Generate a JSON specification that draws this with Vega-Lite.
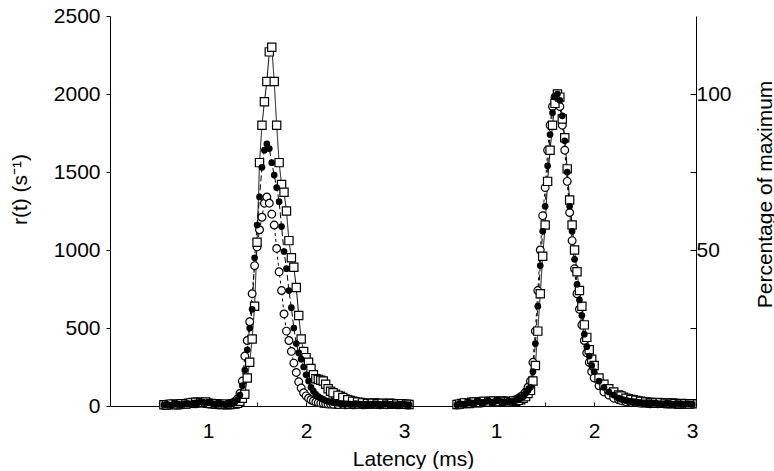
{
  "$schema": "https://vega.github.io/schema/vega-lite/v6.json",
  "padding": {"left": 9, "top": 5, "right": 0, "bottom": 0},
  "spacing": 0,
  "bounds": "flush",
  "config": {
    "view": {"stroke": null},
    "axis": {"grid": false, "domainColor": "black", "tickColor": "black", "labelColor": "black", "titleColor": "black", "labelFont": "Liberation Sans", "titleFont": "Liberation Sans", "labelFontSize": 21, "titleFontSize": 21, "titleFontWeight": "normal", "domainWidth": 1, "tickWidth": 1, "labelOverlap": false}
  },
  "datasets": {
    "L": [
      {"t":0.55,"sq":8,"fc":6,"oc":5},{"t":0.6,"sq":10,"fc":8,"oc":6},{"t":0.65,"sq":12,"fc":10,"oc":9},{"t":0.7,"sq":10,"fc":12,"oc":8},{"t":0.75,"sq":14,"fc":10,"oc":12},{"t":0.8,"sq":18,"fc":15,"oc":12},{"t":0.85,"sq":22,"fc":18,"oc":15},{"t":0.9,"sq":25,"fc":22,"oc":18},{"t":0.95,"sq":20,"fc":25,"oc":20},{"t":1.0,"sq":18,"fc":20,"oc":15},{"t":1.05,"sq":15,"fc":14,"oc":12},{"t":1.1,"sq":12,"fc":10,"oc":14},{"t":1.15,"sq":10,"fc":12,"oc":9},{"t":1.2,"sq":8,"fc":10,"oc":12},{"t":1.25,"sq":12,"fc":15,"oc":20},
      {"t":0.575,"sq":6,"fc":10,"oc":8},{"t":0.625,"sq":12,"fc":6,"oc":10},{"t":0.675,"sq":8,"fc":14,"oc":6},{"t":0.725,"sq":15,"fc":8,"oc":10},{"t":0.775,"sq":12,"fc":16,"oc":14},{"t":0.825,"sq":20,"fc":12,"oc":18},{"t":0.875,"sq":24,"fc":20,"oc":14},{"t":0.925,"sq":22,"fc":26,"oc":22},{"t":0.975,"sq":26,"fc":18,"oc":16},{"t":1.025,"sq":16,"fc":22,"oc":18},{"t":1.075,"sq":14,"fc":12,"oc":10},{"t":1.125,"sq":10,"fc":14,"oc":12},{"t":1.175,"sq":12,"fc":8,"oc":10},{"t":1.225,"sq":10,"fc":12,"oc":14},
      {"t":1.275,"sq":12,"fc":25,"oc":30},{"t":1.3,"sq":18,"fc":40,"oc":45},{"t":1.325,"sq":30,"fc":70,"oc":80},{"t":1.35,"sq":50,"fc":130,"oc":160},{"t":1.375,"sq":75,"fc":230,"oc":320},{"t":1.4,"sq":180,"fc":360,"oc":420},{"t":1.425,"sq":280,"fc":500,"oc":540},{"t":1.45,"sq":430,"fc":620,"oc":720},{"t":1.475,"sq":640,"fc":950,"oc":900},{"t":1.5,"sq":1050,"fc":1160,"oc":1020},{"t":1.525,"sq":1560,"fc":1340,"oc":1130},{"t":1.55,"sq":1800,"fc":1530,"oc":1210},{"t":1.575,"sq":1950,"fc":1640,"oc":1300},{"t":1.6,"sq":2080,"fc":1680,"oc":1340},{"t":1.625,"sq":2270,"fc":1650,"oc":1300},{"t":1.65,"sq":2300,"fc":1560,"oc":1230},{"t":1.675,"sq":2080,"fc":1480,"oc":1160},{"t":1.7,"sq":1800,"fc":1400,"oc":1010},{"t":1.725,"sq":1560,"fc":1310,"oc":860},{"t":1.75,"sq":1420,"fc":1150,"oc":740},{"t":1.775,"sq":1370,"fc":990,"oc":590},{"t":1.8,"sq":1250,"fc":880,"oc":480},{"t":1.825,"sq":1060,"fc":740,"oc":420},{"t":1.85,"sq":950,"fc":630,"oc":350},{"t":1.875,"sq":890,"fc":500,"oc":275},{"t":1.9,"sq":760,"fc":400,"oc":215},{"t":1.925,"sq":580,"fc":340,"oc":155},{"t":1.95,"sq":430,"fc":300,"oc":115},{"t":1.975,"sq":350,"fc":250,"oc":85},{"t":2.0,"sq":310,"fc":200,"oc":65},{"t":2.025,"sq":280,"fc":160,"oc":50},{"t":2.05,"sq":240,"fc":120,"oc":40},{"t":2.075,"sq":200,"fc":95,"oc":32},{"t":2.1,"sq":175,"fc":75,"oc":26},{"t":2.125,"sq":170,"fc":60,"oc":22},{"t":2.15,"sq":165,"fc":50,"oc":18},{"t":2.175,"sq":160,"fc":42,"oc":16},{"t":2.2,"sq":140,"fc":35,"oc":14},{"t":2.225,"sq":110,"fc":30,"oc":12},{"t":2.25,"sq":95,"fc":25,"oc":12},
      {"t":2.3,"sq":75,"fc":20,"oc":10},{"t":2.35,"sq":62,"fc":16,"oc":10},{"t":2.4,"sq":45,"fc":14,"oc":8},{"t":2.45,"sq":35,"fc":12,"oc":10},{"t":2.5,"sq":28,"fc":15,"oc":8},{"t":2.55,"sq":22,"fc":12,"oc":10},{"t":2.6,"sq":18,"fc":10,"oc":8},{"t":2.65,"sq":15,"fc":12,"oc":10},{"t":2.7,"sq":20,"fc":14,"oc":12},{"t":2.75,"sq":16,"fc":10,"oc":8},{"t":2.8,"sq":14,"fc":12,"oc":10},{"t":2.85,"sq":18,"fc":10,"oc":9},{"t":2.9,"sq":12,"fc":8,"oc":10},{"t":2.95,"sq":15,"fc":10,"oc":8},{"t":3.0,"sq":12,"fc":12,"oc":10},{"t":3.05,"sq":10,"fc":8,"oc":6},
      {"t":2.275,"sq":85,"fc":22,"oc":11},{"t":2.325,"sq":68,"fc":18,"oc":9},{"t":2.375,"sq":55,"fc":15,"oc":11},{"t":2.425,"sq":40,"fc":13,"oc":9},{"t":2.475,"sq":30,"fc":10,"oc":8},{"t":2.525,"sq":25,"fc":14,"oc":10},{"t":2.575,"sq":20,"fc":11,"oc":8},{"t":2.625,"sq":16,"fc":13,"oc":10},{"t":2.675,"sq":18,"fc":10,"oc":11},{"t":2.725,"sq":14,"fc":12,"oc":9},{"t":2.775,"sq":17,"fc":9,"oc":11},{"t":2.825,"sq":12,"fc":13,"oc":8},{"t":2.875,"sq":16,"fc":11,"oc":10},{"t":2.925,"sq":13,"fc":9,"oc":8},{"t":2.975,"sq":14,"fc":11,"oc":9},{"t":3.025,"sq":11,"fc":9,"oc":8}
    ],
    "R": [
      {"t":0.6,"sq":0.5,"fc":0.4,"oc":0.3},{"t":0.65,"sq":0.8,"fc":0.6,"oc":0.5},{"t":0.7,"sq":1.0,"fc":0.8,"oc":0.7},{"t":0.75,"sq":1.2,"fc":1.0,"oc":0.9},{"t":0.8,"sq":1.0,"fc":1.3,"oc":1.1},{"t":0.85,"sq":1.4,"fc":1.1,"oc":1.0},{"t":0.9,"sq":1.2,"fc":1.5,"oc":1.3},{"t":0.95,"sq":1.5,"fc":1.2,"oc":1.4},{"t":1.0,"sq":1.3,"fc":1.6,"oc":1.2},{"t":1.05,"sq":1.6,"fc":1.4,"oc":1.5},{"t":1.1,"sq":1.4,"fc":1.2,"oc":1.6},{"t":1.15,"sq":1.2,"fc":1.5,"oc":1.3},{"t":1.2,"sq":1.5,"fc":1.8,"oc":2.0},{"t":1.25,"sq":2.0,"fc":2.5,"oc":3.0},
      {"t":0.625,"sq":0.6,"fc":0.8,"oc":0.5},{"t":0.675,"sq":1.0,"fc":0.6,"oc":0.8},{"t":0.725,"sq":0.8,"fc":1.1,"oc":0.7},{"t":0.775,"sq":1.3,"fc":0.9,"oc":1.0},{"t":0.825,"sq":1.1,"fc":1.4,"oc":1.2},{"t":0.875,"sq":1.5,"fc":1.2,"oc":1.1},{"t":0.925,"sq":1.3,"fc":1.6,"oc":1.4},{"t":0.975,"sq":1.6,"fc":1.3,"oc":1.2},{"t":1.025,"sq":1.4,"fc":1.7,"oc":1.5},{"t":1.075,"sq":1.5,"fc":1.3,"oc":1.4},{"t":1.125,"sq":1.3,"fc":1.6,"oc":1.5},{"t":1.175,"sq":1.6,"fc":1.4,"oc":1.7},{"t":1.225,"sq":1.8,"fc":2.1,"oc":2.4},
      {"t":1.275,"sq":2.5,"fc":3,"oc":3.5},{"t":1.3,"sq":3,"fc":4,"oc":4.5},{"t":1.325,"sq":4,"fc":5,"oc":6},{"t":1.35,"sq":5,"fc":6,"oc":8},{"t":1.375,"sq":8,"fc":11,"oc":14},{"t":1.4,"sq":13,"fc":20,"oc":24},{"t":1.425,"sq":24,"fc":32,"oc":37},{"t":1.45,"sq":36,"fc":45,"oc":50},{"t":1.475,"sq":48,"fc":56,"oc":61},{"t":1.5,"sq":58,"fc":64,"oc":70},{"t":1.525,"sq":72,"fc":77,"oc":82},{"t":1.55,"sq":82,"fc":87,"oc":90},{"t":1.575,"sq":90,"fc":94,"oc":96},{"t":1.6,"sq":97,"fc":99,"oc":99},{"t":1.625,"sq":100,"fc":100,"oc":100},{"t":1.65,"sq":99,"fc":98,"oc":96},{"t":1.675,"sq":92,"fc":93,"oc":90},{"t":1.7,"sq":86,"fc":85,"oc":82},{"t":1.725,"sq":76,"fc":75,"oc":72},{"t":1.75,"sq":66,"fc":64,"oc":62},{"t":1.775,"sq":58,"fc":56,"oc":53},{"t":1.8,"sq":50,"fc":47,"oc":44},{"t":1.825,"sq":43,"fc":39,"oc":36},{"t":1.85,"sq":37,"fc":34,"oc":31},{"t":1.875,"sq":32,"fc":29,"oc":26},{"t":1.9,"sq":26,"fc":23,"oc":21},{"t":1.925,"sq":22,"fc":19,"oc":17},{"t":1.95,"sq":18,"fc":16,"oc":14},{"t":1.975,"sq":15,"fc":13,"oc":11},{"t":2.0,"sq":13,"fc":11,"oc":9},{"t":2.05,"sq":9,"fc":8,"oc":6.5},{"t":2.1,"sq":7,"fc":6,"oc":4.5},{"t":2.15,"sq":5.5,"fc":4.5,"oc":3.5},{"t":2.2,"sq":4.5,"fc":3.5,"oc":2.5},{"t":2.25,"sq":3.5,"fc":2.5,"oc":2},{"t":2.3,"sq":2.8,"fc":2,"oc":1.6},{"t":2.35,"sq":2.3,"fc":1.6,"oc":1.3},{"t":2.4,"sq":2,"fc":1.4,"oc":1.2},
      {"t":2.275,"sq":3.2,"fc":2.2,"oc":1.8},{"t":2.325,"sq":2.5,"fc":1.8,"oc":1.4},{"t":2.375,"sq":2.1,"fc":1.5,"oc":1.2},
      {"t":2.45,"sq":1.6,"fc":1.2,"oc":1.0},{"t":2.5,"sq":1.4,"fc":1.0,"oc":0.9},{"t":2.55,"sq":1.2,"fc":1.1,"oc":0.8},{"t":2.6,"sq":1.0,"fc":0.9,"oc":0.8},{"t":2.65,"sq":1.1,"fc":0.8,"oc":0.7},{"t":2.7,"sq":0.9,"fc":0.7,"oc":0.9},{"t":2.75,"sq":0.8,"fc":0.9,"oc":0.6},{"t":2.8,"sq":1.0,"fc":0.6,"oc":0.7},{"t":2.85,"sq":0.7,"fc":0.8,"oc":0.5},{"t":2.9,"sq":0.8,"fc":0.6,"oc":0.6},{"t":2.95,"sq":0.6,"fc":0.7,"oc":0.5},{"t":3.0,"sq":0.7,"fc":0.5,"oc":0.6},
      {"t":2.425,"sq":1.8,"fc":1.3,"oc":1.1},{"t":2.475,"sq":1.5,"fc":1.1,"oc":0.9},{"t":2.525,"sq":1.3,"fc":1.0,"oc":0.9},{"t":2.575,"sq":1.1,"fc":1.0,"oc":0.7},{"t":2.625,"sq":1.0,"fc":0.9,"oc":0.8},{"t":2.675,"sq":1.0,"fc":0.7,"oc":0.8},{"t":2.725,"sq":0.9,"fc":0.8,"oc":0.7},{"t":2.775,"sq":0.9,"fc":0.7,"oc":0.6},{"t":2.825,"sq":0.8,"fc":0.7,"oc":0.6},{"t":2.875,"sq":0.7,"fc":0.7,"oc":0.5},{"t":2.925,"sq":0.7,"fc":0.6,"oc":0.6},{"t":2.975,"sq":0.6,"fc":0.6,"oc":0.5}
    ]
  },
  "hconcat": [
    {
      "width": 300,
      "height": 390,
      "data": {"name": "L"},
      "transform": [{"fold": ["oc", "sq", "fc"], "as": ["s", "v"]}],
      "encoding": {
        "x": {"field": "t", "type": "quantitative", "scale": {"domain": [0, 3.06], "nice": false, "zero": false},
          "axis": {"values": [0.5, 1, 1.5, 2, 2.5, 3], "labelExpr": "datum.value % 1 == 0 ? toString(datum.value) : ''", "tickSize": -4, "labelPadding": 18, "labelFlush": false, "labelOverlap": false, "title": "Latency (ms)", "titleX": 303, "titleY": 53, "titleBaseline": "middle", "titleAnchor": "middle", "titleAlign": "center"}},
        "y": {"field": "v", "type": "quantitative", "scale": {"domain": [0, 2500], "nice": false},
          "axis": {"values": [0, 500, 1000, 1500, 2000, 2500], "format": "d", "tickSize": 4, "labelPadding": 6, "title": "r(t) (s⁻¹)", "titleX": -90, "titleY": 173, "titleAngle": 270, "titleAlign": "center", "titleBaseline": "middle"}}
      },
      "layer": [
        {"mark": {"type": "line", "stroke": "black", "strokeWidth": 1}, "encoding": {"detail": {"field": "s"}, "strokeDash": {"field": "s", "type": "nominal", "scale": {"domain": ["sq", "fc", "oc"], "range": [[1, 0], [6, 3], [3, 3]]}, "legend": null}}},
        {"transform": [{"filter": "datum.s == 'oc'"}], "mark": {"type": "point", "shape": "circle", "filled": true, "fill": "white", "stroke": "black", "strokeWidth": 1.2, "size": 60, "opacity": 1}},
        {"transform": [{"filter": "datum.s == 'sq'"}], "mark": {"type": "point", "shape": "square", "filled": true, "fill": "white", "stroke": "black", "strokeWidth": 1.2, "size": 68, "opacity": 1}},
        {"transform": [{"filter": "datum.s == 'fc'"}], "mark": {"type": "point", "shape": "circle", "filled": true, "fill": "black", "size": 45, "opacity": 1}}
      ]
    },
    {
      "width": 286,
      "height": 390,
      "data": {"name": "R"},
      "transform": [{"fold": ["oc", "sq", "fc"], "as": ["s", "v"]}],
      "encoding": {
        "x": {"field": "t", "type": "quantitative", "scale": {"domain": [0.12, 3.04], "nice": false, "zero": false},
          "axis": {"values": [1, 1.5, 2, 2.5, 3], "labelExpr": "datum.value % 1 == 0 ? toString(datum.value) : ''", "tickSize": -4, "labelPadding": 18, "labelFlush": false, "labelOverlap": false, "title": null}},
        "y": {"field": "v", "type": "quantitative", "scale": {"domain": [0, 125], "nice": false},
          "axis": {"orient": "right", "values": [25, 50, 75, 100], "labelExpr": "datum.value == 50 || datum.value == 100 ? datum.label : ''", "tickSize": -6, "labelPadding": 6, "title": "Percentage of maximum", "titleX": 69, "titleY": 178, "titleAngle": 270, "titleAlign": "center", "titleBaseline": "middle"}}
      },
      "layer": [
        {"mark": {"type": "line", "stroke": "black", "strokeWidth": 1}, "encoding": {"detail": {"field": "s"}, "strokeDash": {"field": "s", "type": "nominal", "scale": {"domain": ["sq", "fc", "oc"], "range": [[1, 0], [6, 3], [3, 3]]}, "legend": null}}},
        {"transform": [{"filter": "datum.s == 'oc'"}], "mark": {"type": "point", "shape": "circle", "filled": true, "fill": "white", "stroke": "black", "strokeWidth": 1.2, "size": 60, "opacity": 1}},
        {"transform": [{"filter": "datum.s == 'sq'"}], "mark": {"type": "point", "shape": "square", "filled": true, "fill": "white", "stroke": "black", "strokeWidth": 1.2, "size": 68, "opacity": 1}},
        {"transform": [{"filter": "datum.s == 'fc'"}], "mark": {"type": "point", "shape": "circle", "filled": true, "fill": "black", "size": 45, "opacity": 1}}
      ]
    }
  ]
}
